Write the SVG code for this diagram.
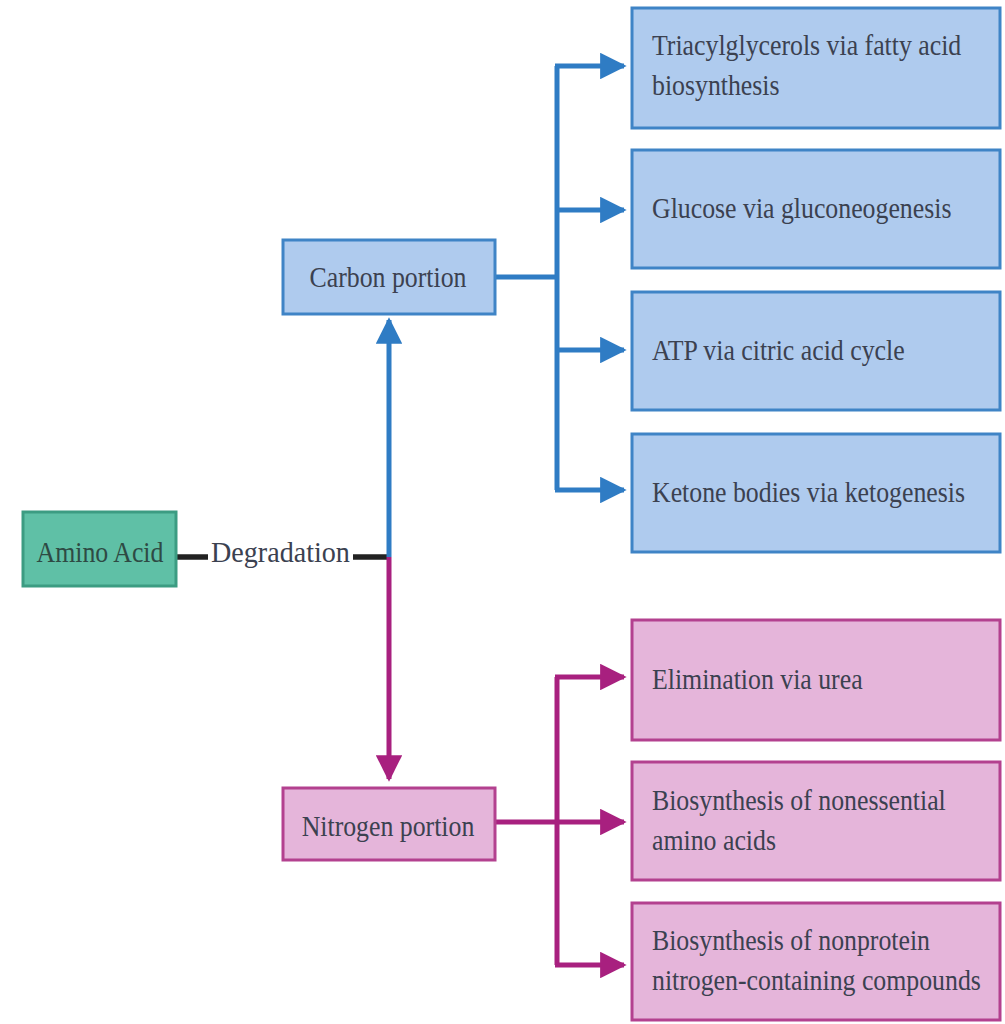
<svg xmlns="http://www.w3.org/2000/svg" width="1005" height="1024" viewBox="0 0 1005 1024">
<defs>
<marker id="ab" viewBox="0 0 10 10" refX="9" refY="5" markerWidth="5.3" markerHeight="5.3" orient="auto" markerUnits="strokeWidth"><path d="M0,0 L10,5 L0,10 z" fill="#2f7cc4"/></marker>
<marker id="am" viewBox="0 0 10 10" refX="9" refY="5" markerWidth="5.3" markerHeight="5.3" orient="auto" markerUnits="strokeWidth"><path d="M0,0 L10,5 L0,10 z" fill="#a8207f"/></marker>
<style>
.t{font-family:"Liberation Serif","Times New Roman",serif;font-size:29px;fill:#3b4150}
.c{text-anchor:middle}
.b{fill:#afcbee;stroke:#3f84c6;stroke-width:3}
.m{fill:#e5b5da;stroke:#b3418f;stroke-width:3}
.g{fill:#5fc0a6;stroke:#3c9c82;stroke-width:3}
.lb{stroke:#2f7cc4;stroke-width:5;fill:none}
.lm{stroke:#a8207f;stroke-width:5;fill:none}
.lk{stroke:#222;stroke-width:5.5;fill:none}
</style>
</defs>
<rect width="1005" height="1024" fill="#fff"/>
<g id="connectors">
<line class="lk" x1="176" y1="557" x2="208" y2="557"/>
<line class="lk" x1="353" y1="557" x2="390" y2="557"/>
<line class="lb" x1="389" y1="557" x2="389" y2="320" marker-end="url(#ab)"/>
<line class="lm" x1="389" y1="557" x2="389" y2="779" marker-end="url(#am)"/>
<path class="lb" d="M495,277 H557"/>
<path class="lb" d="M557,66 V490"/>
<line class="lb" x1="555" y1="66" x2="624" y2="66" marker-end="url(#ab)"/>
<line class="lb" x1="557" y1="210" x2="624" y2="210" marker-end="url(#ab)"/>
<line class="lb" x1="557" y1="350" x2="624" y2="350" marker-end="url(#ab)"/>
<line class="lb" x1="555" y1="490" x2="624" y2="490" marker-end="url(#ab)"/>
<path class="lm" d="M557,677 V965"/>
<line class="lm" x1="555" y1="677" x2="624" y2="677" marker-end="url(#am)"/>
<line class="lm" x1="495" y1="822" x2="624" y2="822" marker-end="url(#am)"/>
<line class="lm" x1="555" y1="965" x2="624" y2="965" marker-end="url(#am)"/>
<text class="t" transform="translate(211,562) scale(0.97,1)">Degradation</text>
</g>
<g id="amino-acid"><rect class="g" x="23" y="512" width="153" height="74"/><text class="t c" transform="translate(100,562) scale(0.89,1)" style="fill:#2e4a44">Amino Acid</text></g>
<g id="carbon"><rect class="b" x="283" y="240" width="212" height="74"/><text class="t c" transform="translate(388,287) scale(0.89,1)">Carbon portion</text></g>
<g id="nitrogen"><rect class="m" x="283" y="788" width="212" height="72"/><text class="t c" transform="translate(388,836) scale(0.89,1)">Nitrogen portion</text></g>
<g id="tag"><rect class="b" x="632" y="8" width="368" height="120"/><text class="t" transform="translate(652,55) scale(0.89,1)">Triacylglycerols via fatty acid</text><text class="t" transform="translate(652,95) scale(0.89,1)">biosynthesis</text></g>
<g id="glucose"><rect class="b" x="632" y="150" width="368" height="118"/><text class="t" transform="translate(652,218) scale(0.89,1)">Glucose via gluconeogenesis</text></g>
<g id="atp"><rect class="b" x="632" y="292" width="368" height="118"/><text class="t" transform="translate(652,360) scale(0.89,1)">ATP via citric acid cycle</text></g>
<g id="ketone"><rect class="b" x="632" y="434" width="368" height="118"/><text class="t" transform="translate(652,502) scale(0.89,1)">Ketone bodies via ketogenesis</text></g>
<g id="urea"><rect class="m" x="632" y="620" width="368" height="120"/><text class="t" transform="translate(652,689) scale(0.89,1)">Elimination via urea</text></g>
<g id="nonessential"><rect class="m" x="632" y="762" width="368" height="118"/><text class="t" transform="translate(652,810) scale(0.89,1)">Biosynthesis of nonessential</text><text class="t" transform="translate(652,850) scale(0.89,1)">amino acids</text></g>
<g id="nonprotein"><rect class="m" x="632" y="903" width="368" height="117"/><text class="t" transform="translate(652,950) scale(0.89,1)">Biosynthesis of nonprotein</text><text class="t" transform="translate(652,990) scale(0.89,1)">nitrogen-containing compounds</text></g>
</svg>
